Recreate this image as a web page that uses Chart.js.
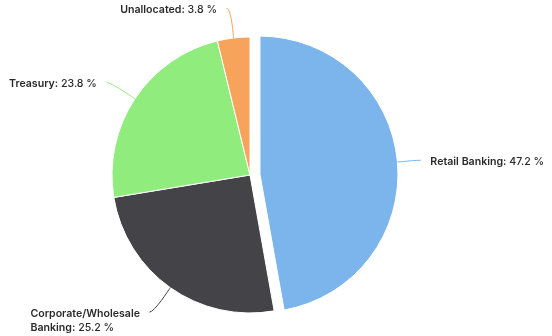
<!DOCTYPE html>
<html><head><meta charset="utf-8">
<script src="https://cdn.jsdelivr.net/npm/chart.js@4"></script>
<style>html,body{margin:0;padding:0;background:#fff}#wrap{width:552px;height:336px;position:relative}</style>
</head><body><div id="wrap"><canvas id="c" width="552" height="336"></canvas></div>
<script>
// ---- data ----
const categories = ['Retail Banking', 'Corporate/Wholesale Banking', 'Treasury', 'Unallocated'];
const shares = [47.2, 25.2, 23.8, 3.8];
const sliceColors = ['#7cb5ec', '#434348', '#90ed7d', '#f7a35c'];
const slicedIndexes = [0];

// ---- style ----
const SLICE_OFFSET = 10;
const LABEL_DISTANCE = 30;
const FONT_FAMILY = 'Inter, "Noto Sans", sans-serif';
const FONT_SIZE = 10.6;
const LINE_HEIGHT = 14;
const TEXT_COLOR = '#2a2a2a';

const explodePlugin = {
  id: 'explode',
  afterDatasetsUpdate(chart) {
    const meta = chart.getDatasetMeta(0);
    meta.data.forEach((arc, i) => {
      if (slicedIndexes.includes(i)) {
        const mid = (arc.startAngle + arc.endAngle) / 2;
        arc.x += Math.cos(mid) * SLICE_OFFSET;
        arc.y += Math.sin(mid) * SLICE_OFFSET;
      }
    });
  }
};

function setFont(ctx, bold) {
  ctx.font = (bold ? '600 ' : '500 ') + FONT_SIZE + 'px ' + FONT_FAMILY;
}

const labelPlugin = {
  id: 'pieLabels',
  afterDatasetsDraw(chart) {
    const ctx = chart.ctx;
    const meta = chart.getDatasetMeta(0);
    const ca = chart.chartArea;
    const cx = (ca.left + ca.right) / 2, cy = (ca.top + ca.bottom) / 2;
    const total = shares.reduce((a, b) => a + b, 0);
    ctx.save();
    meta.data.forEach((arc, i) => {
      const mid = (arc.startAngle + arc.endAngle) / 2;
      const r = arc.outerRadius;
      const cos = Math.cos(mid), sin = Math.sin(mid);
      const touch = { x: arc.x + cos * r, y: arc.y + sin * r };
      const fo = Math.min((slicedIndexes.includes(i) ? SLICE_OFFSET : 0) + 1, LABEL_DISTANCE / 5);
      const brk = { x: touch.x + cos * fo, y: touch.y + sin * fo };
      const nat = { x: cx + cos * (r + LABEL_DISTANCE), y: cy + sin * (r + LABEL_DISTANCE) };
      const s = nat.x >= cx ? 1 : -1;
      const lx = nat.x + s * 3.5;
      ctx.beginPath();
      ctx.moveTo(lx, nat.y);
      ctx.bezierCurveTo(lx - s * 5, nat.y, 2 * brk.x - touch.x, 2 * brk.y - touch.y, brk.x, brk.y);
      ctx.lineTo(touch.x, touch.y);
      ctx.strokeStyle = sliceColors[i];
      ctx.lineWidth = 1;
      ctx.stroke();

      // rich text tokens
      const pct = (shares[i] / total * 100).toFixed(1) + '\u00a0%';
      const words = categories[i].split(' ');
      const tokens = words.map((w, k) => ({ t: k === words.length - 1 ? w + ':' : w, b: true }));
      tokens.push({ t: pct, b: false });
      const textEdge = nat.x + s * 13;
      const avail = s > 0 ? (chart.width - 2 - textEdge) : (textEdge - 2);
      setFont(ctx, false);
      const spaceW = ctx.measureText(' ').width;
      const lines = [];
      let cur = [], curW = 0;
      tokens.forEach(tok => {
        setFont(ctx, tok.b);
        const w = ctx.measureText(tok.t).width;
        const add = cur.length ? spaceW + w : w;
        if (cur.length && curW + add > avail) {
          lines.push({ toks: cur, w: curW });
          cur = [tok]; curW = w;
        } else { cur.push(tok); curW += add; }
      });
      if (cur.length) lines.push({ toks: cur, w: curW });
      const blockW = Math.max(...lines.map(l => l.w));
      const startX = s > 0 ? textEdge : textEdge - blockW;
      ctx.fillStyle = TEXT_COLOR;
      ctx.textBaseline = 'middle';
      ctx.textAlign = 'left';
      lines.forEach((ln, li) => {
        let x = startX;
        const y = nat.y + 1.5 + li * LINE_HEIGHT;
        ln.toks.forEach((tok, k) => {
          if (k > 0) x += spaceW;
          setFont(ctx, tok.b);
          ctx.fillText(tok.t, x, y);
          x += ctx.measureText(tok.t).width;
        });
      });
    });
    ctx.restore();
  }
};

new Chart(document.getElementById('c'), {
  type: 'pie',
  data: {
    labels: categories,
    datasets: [{
      data: shares,
      backgroundColor: sliceColors,
      borderColor: '#ffffff',
      borderWidth: 1
    }]
  },
  options: {
    responsive: false,
    animation: false,
    radius: 138,
    layout: { padding: { left: 0, right: 52, top: 14, bottom: 0 } },
    plugins: { legend: { display: false }, tooltip: { enabled: false } }
  },
  plugins: [explodePlugin, labelPlugin]
});
</script>
</body></html>
